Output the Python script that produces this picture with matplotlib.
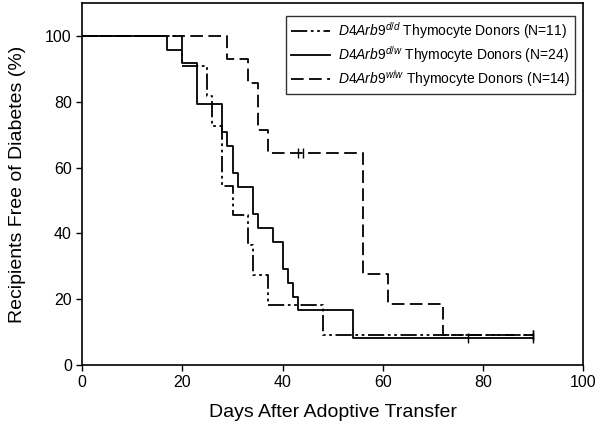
import matplotlib.pyplot as plt

plt.rcParams['font.family'] = ['Liberation Sans', 'DejaVu Sans']
plt.rcParams['mathtext.fontset'] = 'custom'
plt.rcParams['mathtext.rm'] = 'Liberation Sans'
plt.rcParams['mathtext.it'] = 'Liberation Sans:italic'

# Kaplan-Meier steps (day, % free of diabetes)
dd_days = [0, 20, 25, 26, 28, 30, 33, 34, 37, 48, 90]
dd_pct = [100, 90.9, 81.8, 72.7, 54.5, 45.5, 36.4, 27.3, 18.2, 9.1, 9.1]
dd_cens = [90]

dw_days = [0, 17, 20, 23, 28, 29, 30, 31, 34, 35, 38, 40, 41, 42, 43, 54, 90]
dw_pct = [100, 95.8, 91.7, 79.2, 70.8, 66.7, 58.3, 54.2, 45.8, 41.7, 37.5,
          29.2, 25.0, 20.8, 16.7, 8.3, 8.3]
dw_cens = [77, 90]

ww_days = [0, 29, 33, 35, 37, 56, 61, 72, 90]
ww_pct = [100, 92.9, 85.7, 71.4, 64.3, 27.6, 18.4, 9.2, 9.2]
ww_cens = [43, 44, 90]

labels = [r'$\it{D4Arb9}^{d/d}$ Thymocyte Donors (N=11)',
          r'$\it{D4Arb9}^{d/w}$ Thymocyte Donors (N=24)',
          r'$\it{D4Arb9}^{w/w}$ Thymocyte Donors (N=14)']


def pct_at(days, pct, t):
    v = pct[0]
    for d, p in zip(days, pct):
        if d <= t:
            v = p
    return v


fig = plt.figure(figsize=(6, 4.32), dpi=100)
ax = fig.add_axes([0.137, 0.155, 0.835, 0.838])

series = [
    (dd_days, dd_pct, dd_cens, (0, (9, 2, 1.5, 2, 1.5, 2))),
    (dw_days, dw_pct, dw_cens, '-'),
    (ww_days, ww_pct, ww_cens, (0, (7, 3))),
]
for (days, pct, cens, ls), lab in zip(series, labels):
    ax.step(days, pct, where='post', color='black', lw=1.3, ls=ls, label=lab)
    ax.plot(cens, [pct_at(days, pct, c) for c in cens], ls='none',
            marker='|', ms=7, mew=1.0, color='black')

ax.set_xlim(0, 100)
ax.set_ylim(0, 110)
ax.set_xticks([0, 20, 40, 60, 80, 100])
ax.set_yticks([0, 20, 40, 60, 80, 100])
ax.tick_params(direction='out', length=4, width=1, labelsize=11.5,
               top=False, right=False)
for s in ax.spines.values():
    s.set_linewidth(1.2)

ax.set_xlabel('Days After Adoptive Transfer', fontsize=14, labelpad=10)
ax.set_ylabel('Recipients Free of Diabetes (%)', fontsize=14)
ax.yaxis.set_label_coords(-0.112, 0.5)

leg = ax.legend(loc='upper right', bbox_to_anchor=(0.984, 0.965), fontsize=10,
                frameon=True, fancybox=False, edgecolor='black',
                handlelength=2.8, handletextpad=0.6, labelspacing=0.2,
                borderpad=0.35, borderaxespad=0.0)
leg.get_frame().set_linewidth(1.0)

fig.savefig('out.png', dpi=100)
